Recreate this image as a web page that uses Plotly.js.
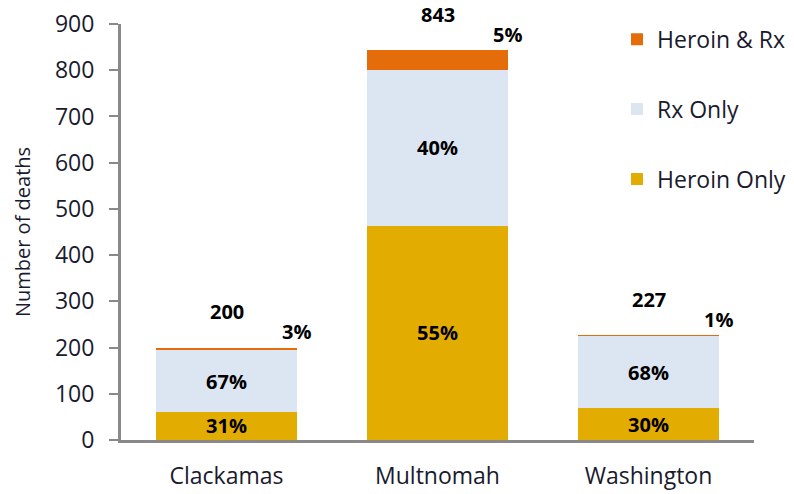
<!DOCTYPE html>
<html>
<head>
<meta charset="utf-8">
<script src="https://cdn.plot.ly/plotly-3.0.1.min.js"></script>
<style>
  html, body { margin: 0; padding: 0; background: #fff; }
  #chart { width: 794px; height: 494px; }
</style>
</head>
<body>
<div id="chart"></div>
<script>
const counties = ["Clackamas", "Multnomah", "Washington"];
const heroinOnly = [61, 464, 69];
const rxOnly = [133, 337, 155];
const heroinAndRx = [6, 42, 3];
const seriesNames = ["Heroin Only", "Rx Only", "Heroin & Rx"];
const colors = ["#E2AC00", "#DCE6F2", "#E46C0A"];

const totals = counties.map((c, i) => heroinOnly[i] + rxOnly[i] + heroinAndRx[i]);
const pct = (arr) => arr.map((v, i) => Math.round(v / totals[i] * 100) + "%");

const FONT = "Open Sans, Noto Sans, sans-serif";
const labelFont = { family: FONT, size: 20, color: "#000", weight: 700 };

function barTrace(vals, idx, withText) {
  return {
    type: "bar",
    x: counties,
    y: vals,
    name: seriesNames[idx],
    legendgroup: "g" + idx,
    legendrank: 3 - idx,
    marker: { color: colors[idx], line: { width: 0 } },
    text: withText ? pct(vals).map(t => "<b>" + t + "</b>") : undefined,
    textposition: withText ? "inside" : "none",
    insidetextanchor: "middle",
    constraintext: "none",
    textfont: labelFont,
    hoverinfo: "skip"
  };
}

const data = [
  barTrace(heroinOnly, 0, true),
  barTrace(rxOnly, 1, true),
  barTrace(heroinAndRx, 2, false)
];

const annotations = [];
const hrPct = pct(heroinAndRx);
counties.forEach((c, i) => {
  annotations.push({
    x: c, y: totals[i], xref: "x", yref: "y",
    text: "<b>" + totals[i] + "</b>",
    showarrow: false, yshift: 36, yanchor: "middle",
    font: labelFont
  });
  annotations.push({
    x: c, y: totals[i], xref: "x", yref: "y",
    text: "<b>" + hrPct[i] + "</b>",
    showarrow: false, xshift: 70, yshift: 16, yanchor: "middle",
    font: labelFont
  });
});

const layout = {
  width: 794,
  height: 494,
  margin: { l: 121, r: 40, t: 24, b: 54, autoexpand: false },
  paper_bgcolor: "#fff",
  plot_bgcolor: "#fff",
  barmode: "stack",
  bargap: 0.332,
  font: { family: FONT, color: "#262626" },
  showlegend: true,
  legend: {
    x: 0.7836, xanchor: "left",
    y: 1.015, yanchor: "top",
    traceorder: "grouped",
    tracegroupgap: 37,
    font: { family: FONT, size: 23, color: "#1a1a2e" },
    bgcolor: "rgba(0,0,0,0)"
  },
  xaxis: {
    type: "category",
    showline: true, linecolor: "#898989", linewidth: 3,
    ticks: "", showgrid: false, zeroline: false,
    tickfont: { family: FONT, size: 23, color: "#1a1a2e" },
    ticklabelstandoff: 13
  },
  yaxis: {
    range: [0, 900], dtick: 100,
    showline: true, linecolor: "#898989", linewidth: 3,
    ticks: "outside", ticklen: 9, tickwidth: 2, tickcolor: "#898989",
    showgrid: false, zeroline: false,
    ticklabelstandoff: 10,
    tickfont: { family: FONT, size: 23, color: "#1a1a2e" },
    title: { text: "Number of deaths", font: { family: FONT, size: 20, color: "#1a1a2e" }, standoff: 19 }
  },
  annotations: annotations
};

Plotly.newPlot("chart", data, layout, { displayModeBar: false, staticPlot: true });
</script>
</body>
</html>
